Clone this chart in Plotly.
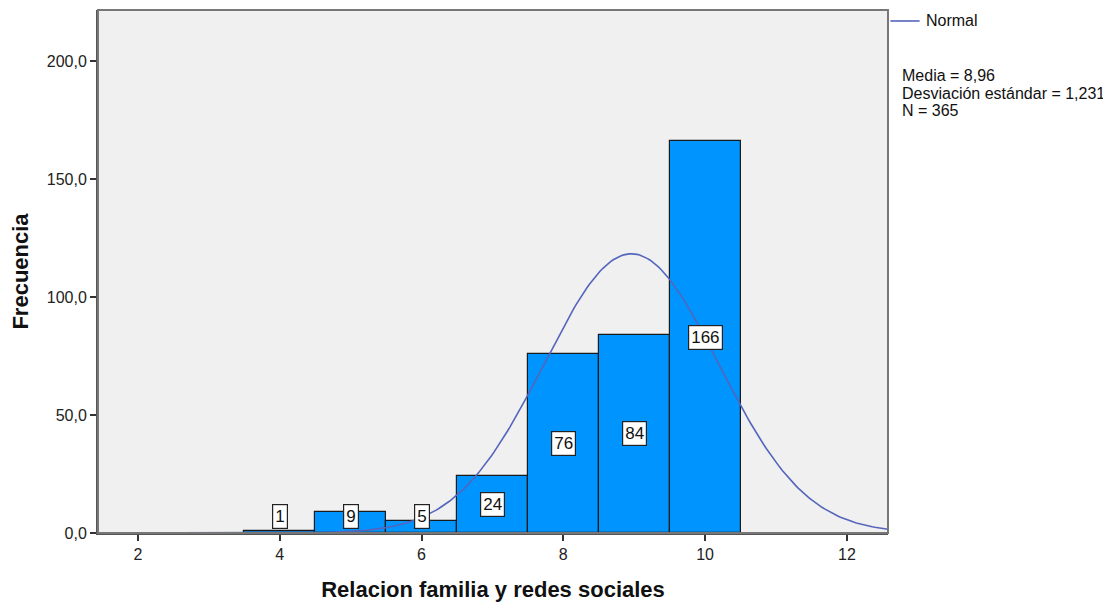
import math
import plotly.graph_objects as go

# Histogram data (bin centres and counts)
scores = [4, 5, 6, 7, 8, 9, 10]
counts = [1, 9, 5, 24, 76, 84, 166]

MEAN = 8.96
SD = 1.231
N = 365

x_ticks = [2, 4, 6, 8, 10, 12]
y_ticks = [0, 50, 100, 150, 200]
y_tick_labels = ["0,0", "50,0", "100,0", "150,0", "200,0"]
stats_lines = ["Media = 8,96", "Desviación estándar = 1,231", "N = 365"]

X_RANGE = [1.436, 12.58]
Y_RANGE = [0, 221.6]

BAR_COLOR = "#0094FF"
CURVE_COLOR = "#5465BC"
FONT = "Liberation Sans, Arial, sans-serif"

fig = go.Figure()

fig.add_trace(go.Bar(
    x=scores,
    y=counts,
    width=1,
    marker=dict(color=BAR_COLOR, line=dict(color="#1a1a1a", width=1.2)),
    showlegend=False,
    hoverinfo="x+y",
))

# fitted normal curve scaled to counts (bin width 1)
n_pts = 300
cx = [X_RANGE[0] + (X_RANGE[1] - X_RANGE[0]) * i / (n_pts - 1) for i in range(n_pts)]
cy = [N / (SD * math.sqrt(2 * math.pi)) * math.exp(-0.5 * ((v - MEAN) / SD) ** 2) for v in cx]
fig.add_trace(go.Scatter(
    x=cx, y=cy, mode="lines", name="Normal", showlegend=False,
    line=dict(color=CURVE_COLOR, width=1.6),
))

# count labels in white boxes
for s, c in zip(scores, counts):
    fig.add_annotation(
        x=s, y=max(c / 2, 6.8), text=str(c), showarrow=False,
        font=dict(size=17, color="#111111", family=FONT),
        bgcolor="white", bordercolor="#222222", borderwidth=1.2, borderpad=2,
    )

# legend drawn by hand (SPSS style, flush with the top of the frame)
fig.add_annotation(
    xref="paper", yref="paper", x=1.046, y=0.979, xanchor="left", yanchor="middle",
    text="Normal", showarrow=False, font=dict(size=16, color="#111111", family=FONT),
)

# stats block, tight line spacing
for i, line in enumerate(stats_lines):
    fig.add_annotation(
        xref="paper", yref="paper", x=1.015, y=0.874 - i * 0.0335,
        xanchor="left", yanchor="middle", text=line, showarrow=False,
        font=dict(size=16, color="#111111", family=FONT),
    )

axis_common = dict(
    showgrid=False, zeroline=False, showline=True, linecolor="#555555", linewidth=2,
    ticks="outside", ticklen=6, tickwidth=2, tickcolor="#333333",
    tickfont=dict(size=16, color="#222222", family=FONT), mirror=False,
)

# page body adds ~8px offset, margins compensate
fig.update_layout(
    width=1111, height=602,
    paper_bgcolor="white", plot_bgcolor="#F0F0F0",
    margin=dict(l=90, r=231, t=2, b=77),
    font=dict(family=FONT, color="#111111"),
    bargap=0,
    xaxis=dict(
        axis_common, range=X_RANGE, tickvals=x_ticks,
        title=dict(text="<b>Relacion familia y redes sociales</b>", font=dict(size=22, family=FONT), standoff=19),
    ),
    yaxis=dict(
        axis_common, range=Y_RANGE, tickvals=y_ticks, ticktext=y_tick_labels,
        title=dict(text="<b>Frecuencia</b>", font=dict(size=22, family=FONT), standoff=12),
    ),
    showlegend=False,
    shapes=[
        dict(type="rect", xref="paper", yref="paper", x0=0, y0=0, x1=1, y1=1,
             line=dict(color="#777777", width=2), layer="above"),
        dict(type="line", xref="paper", yref="paper", x0=1.003, x1=1.040, y0=0.979, y1=0.979,
             line=dict(color=CURVE_COLOR, width=1.6)),
    ],
)

fig.write_html("out.html")
